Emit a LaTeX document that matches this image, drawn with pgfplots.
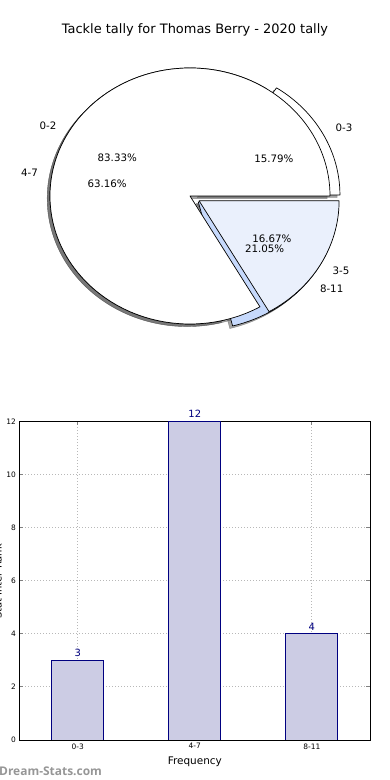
\documentclass[border=0pt]{standalone}
\usepackage{pgfplots}
\pgfplotsset{compat=1.18}
\usepackage{fontspec}
\setmainfont{DejaVu Sans}
\newfontfamily\wmfont{Open Sans}
\definecolor{navy}{RGB}{0,0,128}
\definecolor{barfill}{RGB}{204,204,228}
\definecolor{lightwedge}{RGB}{234,240,252}
\definecolor{bluewedge}{RGB}{198,217,252}
\definecolor{wmgray}{RGB}{150,150,150}
% wedge: #1 ox, #2 oy, #3 start, #4 end, #5 style
\newcommand\pieWedge[5]{%
  \path[#5] (axis cs:#1,#2) -- (axis cs:{#1+cos(#3)},{#2+sin(#3)})
    arc[start angle=#3, end angle=#4, x radius=140bp, y radius=128bp] -- cycle;}
\begin{document}
\begin{tikzpicture}
% ---- data of the two pies ----
\def\pa{3}\def\pb{12}\def\pc{4}      % 0-3, 4-7, 8-11
\def\qa{83.33}\def\qb{16.67}          % 0-2, 3-5
\pgfmathsetmacro\Atwo{360*(\pa/(\pa+\pb+\pc))}
\pgfmathsetmacro\Btwo{360*((\pa+\pb)/(\pa+\pb+\pc))}
\pgfmathsetmacro\Aone{360*(\qa/(\qa+\qb))}
\pgfmathsetmacro\Ma{\Atwo/2}
\pgfmathsetmacro\Mb{(\Atwo+\Btwo)/2}
\pgfmathsetmacro\Mc{(\Btwo+360)/2}
\pgfmathsetmacro\Na{\Aone/2}
\pgfmathsetmacro\Nb{(\Aone+360)/2}
\pgfmathsetmacro\oax{0.071}\pgfmathsetmacro\oay{0.008}
\pgfmathsetmacro\ocx{0.075*cos(\Mc)}\pgfmathsetmacro\ocy{0.075*sin(\Mc)}
\pgfmathsetmacro\obx{0.075*cos(\Nb)}\pgfmathsetmacro\oby{0.075*sin(\Nb)}
\tikzset{shadowst/.style={fill=black!70, fill opacity=0.5, draw=black!70, draw opacity=0.5, line width=0.4bp},
         wedgest/.style={draw=black, line width=0.7bp, line join=round},
         plab/.style={font=\fontsize{10.3}{12}\selectfont, inner sep=0pt}}
\node[anchor=base, font=\fontsize{13}{15}\selectfont] at (195bp,746bp) {Tackle tally for Thomas Berry - 2020 tally};
\begin{axis}[at={(190bp,584bp)}, anchor=origin, hide axis, clip=false,
  x=140bp, y=128bp, xmin=-1.4, xmax=1.4, ymin=-1.4, ymax=1.4]
\addplot[draw=none] coordinates {(0,0)};
% shadows
\pieWedge{\oax-0.02}{\oay-0.02}{0}{\Atwo}{shadowst}
\pieWedge{-0.02}{-0.02}{\Atwo}{\Btwo}{shadowst}
\pieWedge{\ocx-0.02}{\ocy-0.02}{\Btwo}{360}{shadowst}
\pieWedge{-0.02}{-0.02}{0}{\Aone}{shadowst}
\pieWedge{\obx-0.02}{\oby-0.02}{\Aone}{360}{shadowst}
% pie 2
\pieWedge{\oax}{\oay}{0}{\Atwo}{wedgest, fill=white}
\pieWedge{0}{0}{\Atwo}{\Btwo}{wedgest, fill=white}
\pieWedge{\ocx}{\ocy}{\Btwo}{360}{wedgest, fill=bluewedge}
% pie 1
\pieWedge{0}{0}{0}{\Aone}{wedgest, fill=white}
\pieWedge{\obx}{\oby}{\Aone}{360}{wedgest, fill=lightwedge}
% labels pie 2
\node[plab, anchor=west] at (axis cs:{\oax+1.1*cos(\Ma)},{\oay+1.1*sin(\Ma)}) {0-3};
\node[plab, anchor=east] at (axis cs:{1.1*cos(\Mb)},{1.1*sin(\Mb)}) {4-7};
\node[plab, anchor=west] at (axis cs:{\ocx+1.1*cos(\Mc)},{\ocy+1.1*sin(\Mc)}) {8-11};
\node[plab] at (axis cs:{\oax+0.6*cos(\Ma)},{\oay+0.6*sin(\Ma)}) {15.79\%};
\node[plab] at (axis cs:{0.6*cos(\Mb)},{0.6*sin(\Mb)}) {63.16\%};
\node[plab] at (axis cs:{\ocx+0.6*cos(\Mc)},{\ocy+0.6*sin(\Mc)}) {21.05\%};
% labels pie 1
\node[plab, anchor=east] at (axis cs:{1.1*cos(\Na)},{1.1*sin(\Na)}) {0-2};
\node[plab, anchor=west] at (axis cs:{\obx+1.1*cos(\Nb)},{\oby+1.1*sin(\Nb)}) {3-5};
\node[plab] at (axis cs:{0.6*cos(\Na)},{0.6*sin(\Na)}) {83.33\%};
\node[plab] at (axis cs:{\obx+0.6*cos(\Nb)},{\oby+0.6*sin(\Nb)}) {16.67\%};
\end{axis}
% ---- bar chart ----
\begin{axis}[at={(19.3bp,40bp)}, anchor=south west, scale only axis,
  width=351bp, height=318.7bp,
  xmin=-0.5, xmax=2.5, ymin=0, ymax=12,
  xtick={0,1,2}, xticklabels={0-3,4-7,8-11}, ytick={0,2,...,12},
  ybar, bar width=52bp,
  grid=major, grid style={black!28, line width=0.8bp, dash pattern=on 1bp off 2bp},
  tick align=inside, major tick length=4bp, tick style={black!50, line width=0.8bp},
  ticklabel style={font=\fontsize{7.5}{9}\selectfont},
  /pgf/number format/assume math mode=true,
  xlabel={Frequency}, xlabel style={font=\fontsize{10.5}{12}\selectfont, yshift=-1bp},
  axis line style={black, line width=0.8bp},
  nodes near coords, nodes near coords style={text=navy, font=\fontsize{10}{12}\selectfont}]
\addplot[fill=barfill, draw=navy, line width=0.8bp] coordinates {(0,3) (1,12) (2,4)};
\end{axis}
\node[rotate=90, anchor=base, font=\fontsize{10}{12}\selectfont] at (1.5bp,198.5bp) {Stat Inter Rank};
\node[anchor=base west, inner sep=0pt, font=\wmfont\bfseries\fontsize{12}{14}\selectfont, text=wmgray] at (-1bp,5bp) {Dream-Stats.com};
\pgfresetboundingbox
\useasboundingbox (0,0) rectangle (390bp,780bp);
\end{tikzpicture}
\end{document}
